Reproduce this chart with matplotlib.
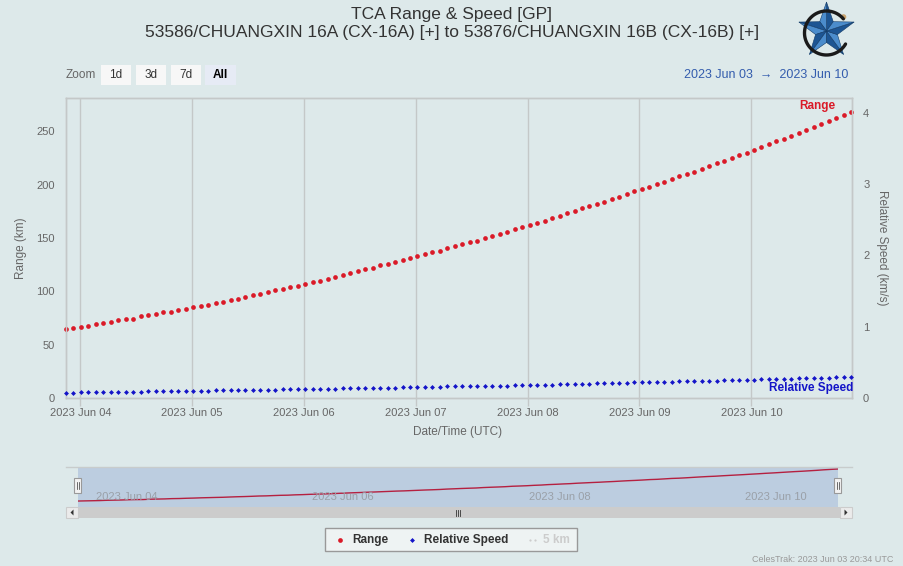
import matplotlib

matplotlib.use("Agg")
import matplotlib.pyplot as plt
import matplotlib.dates as mdates
from matplotlib.patches import Rectangle, Polygon, Circle
import numpy as np
import pandas as pd

plt.rcParams["font.family"] = ["Liberation Sans", "DejaVu Sans"]
NARROW = ["Liberation Sans", "DejaVu Sans"]

# ---- data (one point per TCA pass, ~96 min apart) ----
START = "2023-06-03 20:55"
PASS_PERIOD = "5778s"
range_km = [
    64.9, 65.9, 66.8, 67.8, 69.6, 70.6, 71.5, 73.1, 74.0, 74.3, 76.5, 77.4,
    78.4, 80.2, 80.9, 82.5, 83.7, 85.3, 86.5, 87.7, 88.7, 90.5, 92.1, 93.3,
    94.9, 96.8, 97.7, 99.6, 101.2, 102.1, 104.2, 105.5, 107.4, 108.7, 109.9, 111.5,
    113.7, 115.6, 117.4, 119.0, 120.9, 122.4, 124.3, 126.1, 128.0, 129.3, 131.2,
    133.1, 135.0, 136.5, 138.3, 140.9, 142.7, 144.6, 146.2, 147.7, 150.5, 152.4,
    154.0, 155.9, 158.7, 160.3, 162.1, 164.6, 166.4, 169.3, 171.1, 173.4, 175.3,
    178.1, 180.2, 182.4, 184.3, 186.8, 188.9, 191.5, 194.0, 195.9, 198.3, 201.1,
    202.7, 205.5, 208.3, 209.9, 212.4, 215.2, 218.0, 220.5, 222.4, 225.2, 227.7,
    230.2, 232.7, 235.5, 238.0, 240.9, 243.3, 246.1, 248.9, 251.7, 254.0, 256.8,
    259.6, 263.0, 265.8, 268.3,
]
speed_kms = [
    0.070, 0.074, 0.080, 0.082, 0.083, 0.084, 0.085, 0.086, 0.087, 0.088, 0.090,
    0.092, 0.098, 0.099, 0.100, 0.101, 0.102, 0.103, 0.104, 0.105, 0.107, 0.112,
    0.113, 0.114, 0.115, 0.116, 0.117, 0.118, 0.119, 0.121, 0.125, 0.127, 0.128,
    0.129, 0.130, 0.131, 0.132, 0.137, 0.138, 0.139, 0.140, 0.141, 0.142, 0.143,
    0.147, 0.148, 0.149, 0.150, 0.151, 0.152, 0.156, 0.163, 0.165,
    0.166, 0.167, 0.168, 0.170, 0.171, 0.173, 0.174, 0.176, 0.180, 0.182, 0.184,
    0.186, 0.189, 0.191, 0.193, 0.195, 0.198, 0.201, 0.204, 0.207, 0.210, 0.213,
    0.217, 0.220, 0.222, 0.224, 0.227, 0.229, 0.231, 0.234, 0.236, 0.238, 0.241,
    0.243, 0.245, 0.248, 0.250, 0.253, 0.255, 0.258, 0.261, 0.264, 0.267, 0.269,
    0.272, 0.275, 0.278, 0.281, 0.283, 0.286, 0.289, 0.292, 0.295,
]
day_ticks = ["2023-06-04", "2023-06-05", "2023-06-06", "2023-06-07",
             "2023-06-08", "2023-06-09", "2023-06-10"]
nav_ticks = ["2023-06-04", "2023-06-06", "2023-06-08", "2023-06-10"]
zoom_buttons = ["1d", "3d", "7d", "All"]

times = pd.date_range(START, periods=len(range_km), freq=PASS_PERIOD)

BG = "#dde9ea"
RED = "#da1a28"
BLUE = "#1414c8"
GRID = "#c4c8c8"
LABEL = "#666666"
W, H = 904, 566


def frac(x0, y0, x1, y1):
    """pixel box (y down) -> figure-fraction rect"""
    return [x0 / W, 1 - y1 / H, (x1 - x0) / W, (y1 - y0) / H]


fig = plt.figure(figsize=(W / 100, H / 100), dpi=100)
fig.patch.set_facecolor(BG)

# ---- main plot ----
ax = fig.add_axes(frac(66, 98, 852, 398))
ax.set_facecolor(BG)
ax2 = ax.twinx()
ax.plot(times, range_km, "o", ms=3.4, color=RED, mec="none", clip_on=False, zorder=3)
ax2.plot(times, speed_kms, "D", ms=2.5, color=BLUE, mec="none", clip_on=False, zorder=3)
ax.set_xlim(times[0], times[-1] + pd.Timedelta("10min"))
ax.set_ylim(0, 281.4)
ax2.set_ylim(0, 4.21)
ax.set_yticks(range(0, 251, 50))
ax2.set_yticks(range(0, 5))
ax.set_xticks(pd.to_datetime(day_ticks))
ax.xaxis.set_major_formatter(mdates.DateFormatter("%Y %b %d"))
ax.grid(axis="x", color=GRID, lw=1)
ax.set_axisbelow(True)
for a in (ax, ax2):
    for s in a.spines.values():
        s.set_color(GRID)
        s.set_linewidth(1)
ax.tick_params(axis="y", length=0, pad=8, labelsize=8, labelcolor=LABEL)
ax2.tick_params(axis="y", length=0, pad=8, labelsize=8, labelcolor=LABEL)
ax.tick_params(axis="x", length=6, width=1, color=GRID, pad=1.5, labelsize=8,
               labelcolor=LABEL)

# ---- navigator ----
nav = fig.add_axes(frac(78, 467, 838, 507))
nav.set_facecolor("#bccde0")
nav.plot(times, range_km, color="#b52040", lw=1)
nav.set_xlim(times[0], times[-1])
nav.set_ylim(27, 281)
nav.set_xticks([])
nav.set_yticks([])
for s in nav.spines.values():
    s.set_visible(False)
for d in pd.to_datetime(nav_ticks):
    nav.annotate(d.strftime("%Y %b %d"), xy=(d, 0), xycoords=("data", "axes fraction"),
                 xytext=(4, 10), textcoords="offset pixels", va="center", ha="left",
                 fontsize=8, color="#9aa0a8")

# ---- overlay for page furniture (pixel coords) ----
ov = fig.add_axes([0, 0, 1, 1], zorder=10)
ov.set_xlim(0, W)
ov.set_ylim(H, 0)
ov.axis("off")
ov.patch.set_alpha(0)

ov.text(452, 15, "TCA Range & Speed [GP]", ha="center", va="center",
        fontsize=12.5, color="#333333", family=NARROW)
ov.text(452, 33, "53586/CHUANGXIN 16A (CX-16A) [+] to 53876/CHUANGXIN 16B (CX-16B) [+]",
        ha="center", va="center", fontsize=12.5, color="#333333", family=NARROW)

# zoom buttons
ov.text(66, 75, "Zoom", ha="left", va="center", fontsize=8.5, color=LABEL, family=NARROW)
for (x0, x1), lab in zip([(101, 131), (136, 166), (171, 201), (205, 236)], zoom_buttons):
    sel = lab == "All"
    ov.add_patch(Rectangle((x0, 65), x1 - x0, 20, fc="#e6ebf5" if sel else "#f7f7f7",
                           ec="none"))
    ov.text((x0 + x1) / 2, 75, lab, ha="center", va="center", fontsize=8.5,
            color="#000000" if sel else "#333333", weight="bold" if sel else "normal",
            family=NARROW)
ov.text(848, 75, "2023 Jun 03  \u2192  2023 Jun 10", ha="right", va="center",
        fontsize=9, color="#335cad", family=NARROW)

# axis titles and series labels
ov.text(21, 248, "Range (km)", rotation=90, ha="center", va="center", fontsize=8.5,
        color=LABEL)
ov.text(882, 248, "Relative Speed (km/s)", rotation=270, ha="center", va="center",
        fontsize=8.5, color=LABEL)
ov.text(458, 432, "Date/Time (UTC)", ha="center", va="center", fontsize=8.5, color=LABEL)
ov.text(835, 106, "Range", ha="right", va="center", fontsize=8.5, weight="bold", color=RED)
ov.text(853, 388, "Relative Speed", ha="right", va="center", fontsize=8.5,
        weight="bold", color=BLUE)

# navigator outline, handles, scrollbar
ov.plot([66, 852], [467, 467], color="#c8cccc", lw=1)
for hx in (78, 838):
    ov.add_patch(Rectangle((hx - 3.5, 478), 7, 15, fc="#f2f2f2", ec="#999999", lw=0.8))
    ov.plot([hx - 1, hx - 1], [482, 489], color="#333333", lw=0.5)
    ov.plot([hx + 1, hx + 1], [482, 489], color="#333333", lw=0.5)
ov.add_patch(Rectangle((66, 507), 786, 11, fc="#f2f2f2", ec="none"))
ov.add_patch(Rectangle((78, 507), 762, 11, fc="#cccccc", ec="none"))
for bx in (66, 840):
    ov.add_patch(Rectangle((bx, 507), 12, 11, fc="#ebebeb", ec="#cccccc", lw=0.8))
ov.add_patch(Polygon([[73.5, 509.5], [73.5, 515.5], [70.5, 512.5]], fc="#333333"))
ov.add_patch(Polygon([[844.5, 509.5], [844.5, 515.5], [847.5, 512.5]], fc="#333333"))
for gx in (456, 458, 460):
    ov.plot([gx, gx], [509.5, 515.5], color="#333333", lw=0.6)

# legend
ov.add_patch(Rectangle((325, 528), 252, 23, fc="#eef3f3", ec="#999999", lw=1))
ov.plot([340], [540], "o", ms=3.4, color=RED, mec="none")
ov.text(352, 540, "Range", ha="left", va="center", fontsize=8.5, weight="bold",
        color="#333333", family=NARROW)
ov.plot([412], [540], "D", ms=2.5, color=BLUE, mec="none")
ov.text(424, 540, "Relative Speed", ha="left", va="center", fontsize=8.5,
        weight="bold", color="#333333", family=NARROW)
ov.plot([530, 535], [540, 540], "o", ms=1.6, color="#cccccc", mec="none")
ov.text(543, 540, "5 km", ha="left", va="center", fontsize=8.5, weight="bold",
        color="#cccccc", family=NARROW)

ov.text(893, 559, "CelesTrak: 2023 Jun 03 20:34 UTC", ha="right", va="center",
        fontsize=6.5, color="#999999", family=NARROW)

# logo: faceted blue star with a dark ring
cx, cy, r_out, r_in = 826.5, 31, 29, 11.5
ang = np.deg2rad(90 + 36 * np.arange(10))
rad = np.where(np.arange(10) % 2 == 0, r_out, r_in)
vx = cx + rad * np.cos(ang)
vy = cy - rad * np.sin(ang)
th = np.deg2rad(np.linspace(40, 330, 80))
ov.plot(cx + 22 * np.cos(th), cy + 2 - 22 * np.sin(th), color="#1a1a1a", lw=2.4,
        solid_capstyle="round")
ov.add_patch(Circle((cx + 17, cy - 14), 2.8, fc="#c9a36e", ec="none"))
for k in range(0, 10, 2):
    tip = (vx[k], vy[k])
    ov.add_patch(Polygon([(cx, cy), tip, (vx[k - 1], vy[k - 1])], fc="#1d5593",
                         ec="#123a66", lw=0.4))
    ov.add_patch(Polygon([(cx, cy), tip, (vx[k + 1], vy[k + 1])], fc="#4b8ccc",
                         ec="#123a66", lw=0.4))

fig.savefig("out.png", dpi=100, facecolor=BG)
